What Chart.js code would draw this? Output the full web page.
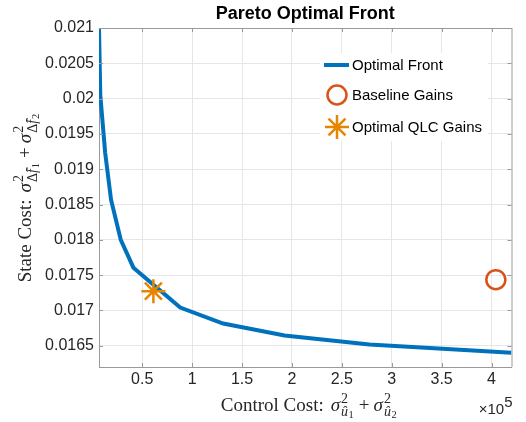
<!DOCTYPE html>
<html>
<head>
<meta charset="utf-8">
<script src="https://cdn.jsdelivr.net/npm/chart.js@4/dist/chart.umd.min.js"></script>
<style>
  html, body { margin: 0; padding: 0; background: #fff; }
  canvas { display: block; }
</style>
</head>
<body>
<canvas id="pareto" width="526" height="422"></canvas>
<script>
// Pareto front: control cost (x) vs. state cost (y)
const frontControlCost = [6700, 8000, 12900, 18800, 28500, 41200, 88100, 131100, 192600, 277600, 420000];
const frontStateCost   = [0.02100, 0.02005, 0.01923, 0.018566, 0.018001, 0.017606, 0.017041, 0.016815, 0.016645, 0.016518, 0.016401];

// Operating points
const baselineControlCost = [404300];
const baselineStateCost   = [0.017436];
const qlcControlCost = [61200];
const qlcStateCost   = [0.017274];

// Axis ticks
const xTickValues = [50000, 100000, 150000, 200000, 250000, 300000, 350000, 400000];
const yTickValues = [0.0165, 0.017, 0.0175, 0.018, 0.0185, 0.019, 0.0195, 0.02, 0.0205, 0.021];

const seriesLabels = ['Optimal Front', 'Baseline Gains', 'Optimal QLC Gains'];

const SANS = '"Liberation Sans", Arial, Helvetica, sans-serif';
const SERIF = '"Liberation Serif", "Times New Roman", serif';
const BLUE = '#0072BD', RED = '#D95319', ORANGE = '#E68600';
const AXIS = '#9a9a9a', GRID = '#e6e6e6', TEXT = '#262626';

const toPoints = (xs, ys) => xs.map((x, i) => ({ x, y: ys[i] }));

// --- small rich-text helper for the axis labels (sub/superscripts) ---
function runsWidth(ctx, runs) {
  return runs.reduce((s, r) => { ctx.font = r.font; return s + ctx.measureText(r.t).width + (r.kern || 0) + (r.lead || 0); }, 0);
}
function partWidth(ctx, p) {
  if (p.sup || p.sub) return Math.max(runsWidth(ctx, p.sup || []), runsWidth(ctx, p.sub || [])) + 1;
  return runsWidth(ctx, [p]);
}
function drawRuns(ctx, runs, x, y) {
  for (const r of runs) {
    ctx.font = r.font;
    x += r.lead || 0;
    const w = ctx.measureText(r.t).width;
    ctx.fillText(r.t, x, y + (r.dy || 0));
    if (r.hat) {
      ctx.save();
      ctx.font = r.hatFont;
      ctx.textAlign = 'center';
      ctx.fillText('\u02C6', x + w / 2 + 1.5, y + (r.dy || 0) - 1);
      ctx.restore();
    }
    x += w + (r.kern || 0);
  }
}
function drawMath(ctx, parts, cx, baseline) {
  const total = parts.reduce((s, p) => s + partWidth(ctx, p), 0);
  let x = cx - total / 2;
  ctx.textAlign = 'left';
  ctx.textBaseline = 'alphabetic';
  for (const p of parts) {
    const w = partWidth(ctx, p);
    if (p.sup || p.sub) {
      if (p.sup) drawRuns(ctx, p.sup, x, baseline);
      if (p.sub) drawRuns(ctx, p.sub, x, baseline);
    } else {
      drawRuns(ctx, [p], x, baseline);
    }
    x += w;
  }
}

const F_MAIN = `19px ${SERIF}`, F_IT = `italic 19px ${SERIF}`;
const F_SC = `14px ${SERIF}`, F_SCI = `italic 14px ${SERIF}`, F_SS = `10.5px ${SERIF}`;
const sq = { t: '2', font: F_SC, dy: -8 };
const plus = { t: '+', font: F_MAIN, lead: 4, kern: 4 };

const xTitle = [
  { t: 'Control Cost:', font: F_MAIN, kern: 7 },
  { t: 'σ', font: F_IT, kern: 1 },
  { sup: [sq], sub: [{ t: 'û', font: F_SCI, dy: 5, kern: 0.5 }, { t: '1', font: F_SS, dy: 7 }] },
  plus,
  { t: 'σ', font: F_IT, kern: 1 },
  { sup: [sq], sub: [{ t: 'û', font: F_SCI, dy: 5, kern: 0.5 }, { t: '2', font: F_SS, dy: 7 }] }
];
const yTitle = [
  { t: 'State Cost:', font: F_MAIN, kern: 7 },
  { t: 'σ', font: F_IT, kern: 1 },
  { sup: [sq], sub: [{ t: 'Δ', font: F_SC, dy: 6 }, { t: 'f', font: F_SCI, dy: 6, hat: true, hatFont: F_SC, kern: 1 }, { t: '1', font: F_SS, dy: 8 }] },
  plus,
  { t: 'σ', font: F_IT, kern: 1 },
  { sup: [sq], sub: [{ t: 'Δ', font: F_SC, dy: 6 }, { t: 'f', font: F_SCI, dy: 6, hat: true, hatFont: F_SC, kern: 1 }, { t: '2', font: F_SS, dy: 8 }] }
];

function drawStar(ctx, x, y, r) {
  ctx.beginPath();
  for (let k = 0; k < 4; k++) {
    const a = k * Math.PI / 4;
    ctx.moveTo(x - Math.cos(a) * r, y - Math.sin(a) * r);
    ctx.lineTo(x + Math.cos(a) * r, y + Math.sin(a) * r);
  }
  ctx.stroke();
}

const decorations = {
  id: 'decorations',
  afterDatasetsDraw(chart) {
    const { ctx, chartArea: a, scales: { x, y } } = chart;
    ctx.save();
    // box: top and right edges
    ctx.strokeStyle = AXIS;
    ctx.lineWidth = 1;
    ctx.beginPath();
    ctx.moveTo(a.left, a.top + 0.5); ctx.lineTo(a.right + 0.5, a.top + 0.5);
    ctx.moveTo(a.right + 0.5, a.top); ctx.lineTo(a.right + 0.5, a.bottom);
    ctx.stroke();
    // inward tick marks
    const tl = 4;
    ctx.beginPath();
    for (const v of xTickValues) {
      const px = Math.round(x.getPixelForValue(v)) + 0.5;
      ctx.moveTo(px, a.bottom); ctx.lineTo(px, a.bottom - tl);
      ctx.moveTo(px, a.top); ctx.lineTo(px, a.top + tl);
    }
    for (const v of yTickValues) {
      const py = Math.round(y.getPixelForValue(v)) + 0.5;
      ctx.moveTo(a.left, py); ctx.lineTo(a.left + tl, py);
      ctx.moveTo(a.right, py); ctx.lineTo(a.right - tl, py);
    }
    ctx.stroke();

    // legend
    const lx = 320, ly = 53;
    ctx.fillStyle = '#fff';
    ctx.fillRect(lx, ly, 168, 88);
    const rows = [65, 95, 127];
    const mx = 337;
    ctx.lineCap = 'butt';
    ctx.strokeStyle = BLUE; ctx.lineWidth = 4;
    ctx.beginPath(); ctx.moveTo(324, rows[0]); ctx.lineTo(349, rows[0]); ctx.stroke();
    ctx.strokeStyle = RED; ctx.lineWidth = 2.5;
    ctx.beginPath(); ctx.arc(mx, rows[1], 9.5, 0, Math.PI * 2); ctx.stroke();
    ctx.strokeStyle = ORANGE; ctx.lineWidth = 2.5;
    drawStar(ctx, mx, rows[2], 12);
    ctx.fillStyle = '#000';
    ctx.font = `15px ${SANS}`;
    ctx.textAlign = 'left';
    ctx.textBaseline = 'middle';
    seriesLabels.forEach((t, i) => ctx.fillText(t, 352, rows[i] + 1));

    // title
    ctx.fillStyle = '#000';
    ctx.font = `bold 18px ${SANS}`;
    ctx.textAlign = 'center';
    ctx.textBaseline = 'alphabetic';
    ctx.fillText('Pareto Optimal Front', (a.left + a.right) / 2, 19);

    // axis titles
    ctx.fillStyle = TEXT;
    drawMath(ctx, xTitle, (a.left + a.right) / 2 + 4, 411);
    ctx.save();
    ctx.translate(31, (a.top + a.bottom) / 2);
    ctx.rotate(-Math.PI / 2);
    drawMath(ctx, yTitle, 0, 0);
    ctx.restore();

    // exponent
    ctx.font = `15px ${SANS}`;
    ctx.textAlign = 'right';
    ctx.fillText('5', a.right + 1, 407);
    const w5 = ctx.measureText('5').width;
    ctx.fillText('×10', a.right + 1 - w5, 414);
    ctx.restore();
  }
};

new Chart(document.getElementById('pareto'), {
  type: 'scatter',
  data: {
    datasets: [
      {
        label: seriesLabels[0],
        data: toPoints(frontControlCost, frontStateCost),
        showLine: true,
        borderColor: BLUE,
        borderWidth: 4,
        pointRadius: 0,
        tension: 0,
        order: 2
      },
      {
        label: seriesLabels[1],
        data: toPoints(baselineControlCost, baselineStateCost),
        pointStyle: 'circle',
        pointRadius: 9.5,
        borderColor: RED,
        backgroundColor: 'rgba(0,0,0,0)',
        borderWidth: 2.5,
        order: 1
      },
      {
        label: seriesLabels[2],
        data: toPoints(qlcControlCost, qlcStateCost),
        pointStyle: 'star',
        pointRadius: 12,
        borderColor: ORANGE,
        borderWidth: 2.5,
        order: 0
      }
    ]
  },
  options: {
    responsive: false,
    animation: false,
    layout: { padding: { left: 0, right: 3, top: 28, bottom: 0 } },
    plugins: { legend: { display: false }, title: { display: false }, tooltip: { enabled: false } },
    scales: {
      x: {
        type: 'linear',
        min: 6700,
        max: 420000,
        afterBuildTicks: s => { s.ticks = xTickValues.map(v => ({ value: v })); },
        afterFit: s => { s.height = 55; },
        grid: { color: GRID, drawTicks: false },
        border: { color: AXIS },
        ticks: {
          padding: 3,
          color: TEXT,
          font: { family: SANS, size: 16 },
          maxRotation: 0,
          callback: v => String(v / 1e5)
        }
      },
      y: {
        type: 'linear',
        min: 0.0162,
        max: 0.021,
        afterBuildTicks: s => { s.ticks = yTickValues.map(v => ({ value: v })); },
        afterFit: s => { s.width = 99; },
        grid: { color: GRID, drawTicks: false },
        border: { color: AXIS },
        ticks: {
          padding: 5,
          color: TEXT,
          font: { family: SANS, size: 16 },
          callback: v => String(parseFloat(v.toFixed(5)))
        }
      }
    }
  },
  plugins: [decorations]
});
</script>
</body>
</html>
